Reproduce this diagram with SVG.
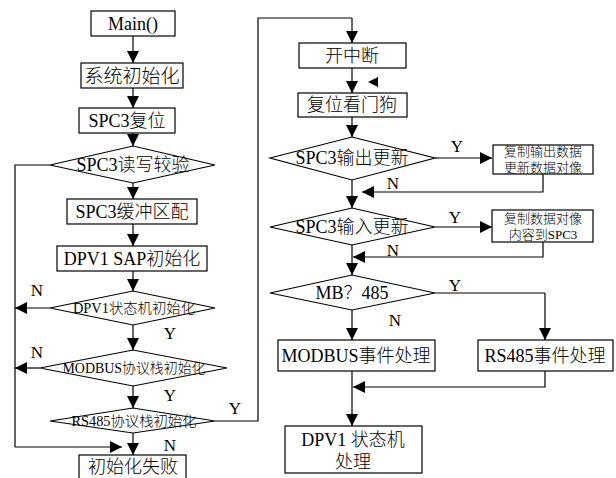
<svg xmlns="http://www.w3.org/2000/svg" width="616" height="478" viewBox="0 0 616 478">
<defs>
<marker id="ah" markerUnits="userSpaceOnUse" markerWidth="14" markerHeight="12" refX="12" refY="6" orient="auto">
<path d="M0,0 L12,6 L0,12 Z" fill="#000"/>
</marker>
<style>
.b{fill:#fff;stroke:#000;stroke-width:1.2}
.l{fill:none;stroke:#000;stroke-width:1.2}
.a{fill:none;stroke:#000;stroke-width:1.2;marker-end:url(#ah)}
text{font-family:"Liberation Serif","Noto Sans CJK SC",serif;font-weight:300;fill:#000;text-anchor:middle;dominant-baseline:central}
.t{font-size:18px}
.s{font-size:13px}
.d{font-size:14px}
.y{font-size:17px}
</style>
</defs>
<rect width="616" height="478" fill="#fff"/>
<g id="connectors">
<path class="a" d="M133,36 V63"/>
<path class="a" d="M133,88 V108"/>
<path class="a" d="M133,133 V146"/>
<path class="a" d="M133,183 V199"/>
<path class="a" d="M133,224 V246"/>
<path class="a" d="M133,271 V291"/>
<path class="a" d="M133,325 V350"/>
<path class="a" d="M133,386 V408"/>
<path class="a" d="M133,433 V455"/>
<path class="l" d="M50,165 H15 V447"/>
<path class="a" d="M15,447 H122"/>
<path class="a" d="M50,308 H15"/>
<path class="a" d="M40,368 H15"/>
<path class="l" d="M215,421 H258 V18 H352"/>
<path class="a" d="M352,18 V43"/>
<path class="a" d="M352,68 V93"/>
<path class="a" d="M352,117 V137"/>
<path class="a" d="M435,158 H492"/>
<path class="a" d="M543,174 V192 H362"/>
<path class="a" d="M352,180 V208"/>
<path class="a" d="M435,227 H492"/>
<path class="a" d="M543,242 V257 H353"/>
<path class="a" d="M352,245 V275"/>
<path class="l" d="M435,293 H545"/>
<path class="a" d="M545,293 V340"/>
<path class="a" d="M352,310 V340"/>
<path class="a" d="M545,371 V387 H353"/>
<path class="a" d="M352,371 V426"/>
<path d="M368,82 L378,77 L378,87 Z" fill="#000"/>
</g>
<g id="labels">
<text class="y" x="37" y="290">N</text>
<text class="y" x="170" y="333">Y</text>
<text class="y" x="37" y="352">N</text>
<text class="y" x="170" y="395">Y</text>
<text class="y" x="235" y="408">Y</text>
<text class="y" x="170" y="445">N</text>
<text class="y" x="457" y="146">Y</text>
<text class="y" x="393" y="183">N</text>
<text class="y" x="455" y="217">Y</text>
<text class="y" x="393" y="250">N</text>
<text class="y" x="455" y="285">Y</text>
<text class="y" x="395" y="320">N</text>
</g>
<g id="main"><rect class="b" x="91" y="11" width="84" height="25"/><text class="t" x="133" y="24">Main()</text></g>
<g id="sysinit"><rect class="b" x="81" y="63" width="102" height="25"/><text class="t" x="132" y="76" style="font-size:19px">系统初始化</text></g>
<g id="spc3reset"><rect class="b" x="79" y="108" width="96" height="25"/><text class="t" x="127" y="121">SPC3复位</text></g>
<g id="spc3check"><polygon class="b" points="50,165 133,146 215,165 133,183"/><text class="t" x="133" y="165">SPC3读写较验</text></g>
<g id="spc3buf"><rect class="b" x="67" y="199" width="130" height="25"/><text class="t" x="132" y="212">SPC3缓冲区配</text></g>
<g id="dpv1sap"><rect class="b" x="57" y="246" width="150" height="25"/><text class="t" x="132" y="259">DPV1 SAP初始化</text></g>
<g id="dpv1sm"><polygon class="b" points="50,308 133,291 215,308 133,325"/><text class="d" x="134" y="308" textLength="122" lengthAdjust="spacingAndGlyphs">DPV1状态机初始化</text></g>
<g id="modbusinit"><polygon class="b" points="40,368 133,350 227,368 133,386"/><text class="d" x="134" y="368" textLength="143" lengthAdjust="spacingAndGlyphs">MODBUS协议栈初始化</text></g>
<g id="rs485init"><polygon class="b" points="50,421 133,408 215,421 133,433"/><text class="d" x="134" y="421" textLength="125" lengthAdjust="spacingAndGlyphs">RS485协议栈初始化</text></g>
<g id="initfail"><rect class="b" x="79" y="455" width="107" height="30"/><text class="t" x="133" y="467">初始化失败</text></g>
<g id="enint"><rect class="b" x="299" y="43" width="107" height="25"/><text class="t" x="352" y="56">开中断</text></g>
<g id="wdog"><rect class="b" x="298" y="93" width="109" height="24"/><text class="t" x="352" y="105">复位看门狗</text></g>
<g id="outupd"><polygon class="b" points="270,158 352,137 435,158 352,180"/><text class="t" x="352" y="158">SPC3输出更新</text></g>
<g id="copyout"><rect class="b" x="493" y="145" width="100" height="29"/><text class="s" x="543" y="151">复制输出数据</text><text class="s" x="543" y="167">更新数据对像</text></g>
<g id="inupd"><polygon class="b" points="270,227 352,208 435,227 352,245"/><text class="t" x="352" y="227">SPC3输入更新</text></g>
<g id="copyin"><rect class="b" x="492" y="210" width="101" height="32"/><text class="s" x="543" y="218">复制数据对像</text><text class="s" x="543" y="234">内容到SPC3</text></g>
<g id="mb485"><polygon class="b" points="270,293 352,275 435,293 352,310"/><text class="t" x="352" y="293">MB？485</text></g>
<g id="modbusev"><rect class="b" x="278" y="340" width="157" height="31"/><text class="t" x="356" y="356">MODBUS事件处理</text></g>
<g id="rs485ev"><rect class="b" x="478" y="340" width="135" height="31"/><text class="t" x="545" y="356">RS485事件处理</text></g>
<g id="dpv1proc"><rect class="b" x="285" y="426" width="137" height="47"/><text class="t" x="353" y="440">DPV1 状态机</text><text class="t" x="353" y="462">处理</text></g>
</svg>
